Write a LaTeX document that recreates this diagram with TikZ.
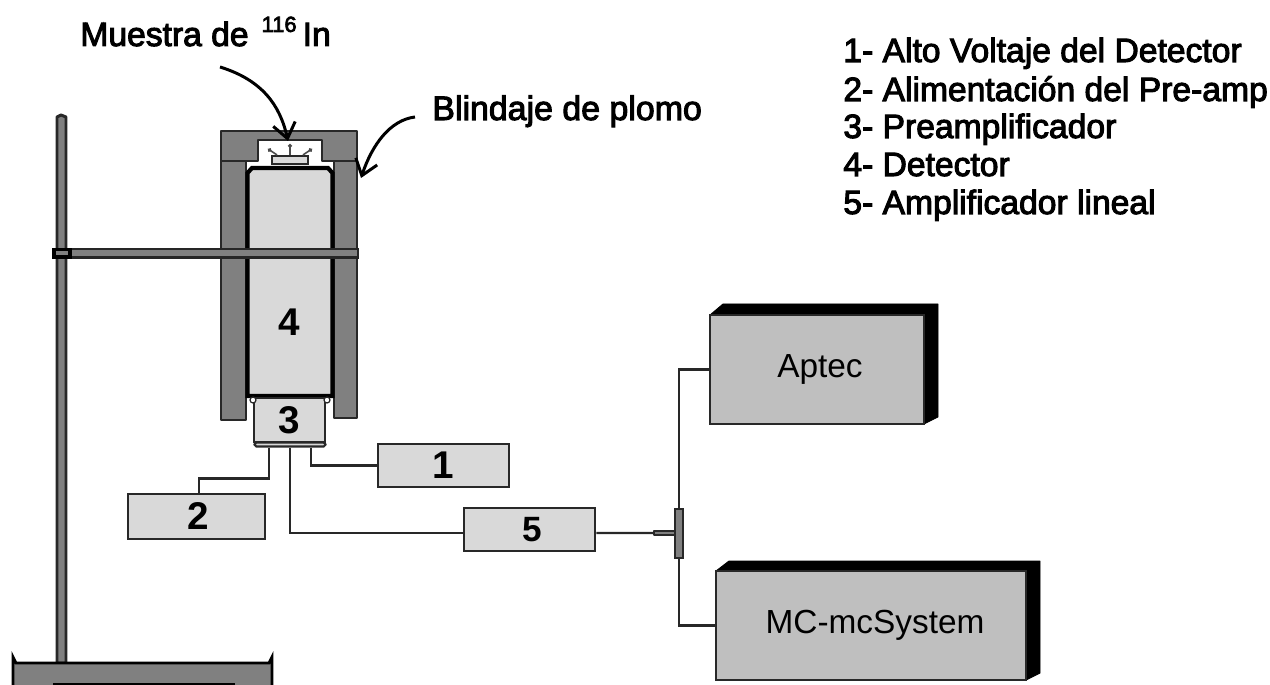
\documentclass[tikz,border=0pt]{standalone}
\usepackage{fontspec}
\setmainfont{Liberation Sans}
\newfontfamily\semibold[FakeBold=3]{Liberation Sans}
\usepackage{xcolor}
\usetikzlibrary{arrows.meta, positioning}
\definecolor{wallgray}{RGB}{128,128,128}
\definecolor{boxgray}{RGB}{217,217,217}
\definecolor{unitgray}{RGB}{191,191,191}
\definecolor{edgegray}{RGB}{40,40,40}

\begin{document}
\begin{tikzpicture}[
    x=0.02cm, y=-0.02cm,
    wall/.style={draw=edgegray, line width=1.2pt, fill=wallgray, line join=round},
    nbox/.style={rectangle, draw=edgegray, line width=1.5pt, fill=boxgray, inner sep=0pt,
                 font=\fontsize{22}{22}\selectfont\bfseries},
    ubox/.style={rectangle, draw=edgegray, line width=1.3pt, fill=unitgray, inner sep=0pt,
                 font=\fontsize{19}{19}\selectfont},
    shade3d/.style={fill=black, draw=black, line width=0.5pt, line join=round},
    wire/.style={draw=edgegray, line width=1.4pt},
    pointer/.style={-{Straight Barb[length=0.3cm, width=0.45cm, line width=1.7pt]}, line width=1.7pt, black},
    legend/.style={anchor=base west, inner sep=0pt, font=\fontsize{19.15}{19.15}\selectfont\semibold},
    ray/.style={-{Circle[length=2.2pt]}, draw=black!70, line width=0.9pt}
]
\useasboundingbox (0,0) rectangle (1270,685);

% stand
\draw[wall, line width=1.7pt] (57,663) -- (57,117) -- (61,115) -- (66,117) -- (66,663) -- cycle;
\fill[wallgray, draw=black, line width=1.6pt] (13,685) -- (13,657) -- (16,663) -- (269,663) -- (272,657) -- (272,685);
\draw[black, line width=1.6pt] (53,684) -- (235,684);

% shield
\draw[wall] (221,161) -- (221,131) -- (357,131) -- (357,161) -- (322,161) -- (322,140)
    -- (258,140) -- (258,161) -- cycle;
\draw[wall] (221,161) rectangle (246,420);
\draw[wall] (334,161) rectangle (357,418);

% detector
\draw[fill=boxgray, draw=black, line width=2.4pt]
    (247.5,396) -- (247.5,173) -- (252,168) -- (328,168) -- (332.5,173) -- (332.5,396) -- cycle;
\draw[black, line width=2.6pt] (246,396) -- (334,396);
\node[font=\fontsize{22}{22}\selectfont\bfseries, inner sep=0pt] (det) at (289,322) {4};

% sample
\node[rectangle, draw=edgegray, line width=1.2pt, fill=boxgray, inner sep=0pt,
      minimum width=0.72cm, minimum height=0.16cm] (sample) at (290,160) {};
\draw[ray] (sample.north) -- ++(0,-11);
\draw[ray] ([xshift=-0.26cm]sample.north) -- ++(-9,-6);
\draw[ray] ([xshift=0.26cm]sample.north) -- ++(9,-6);

% rod and clamp
\fill[wallgray, draw=black!85, line width=1.5pt] (66,249) rectangle (358,257.5);
\draw[black, line width=1.8pt, fill=wallgray] (54,249.5) rectangle (70,257);

% preamp
\node[nbox, minimum width=1.42cm, minimum height=0.88cm] (pre) at (289.5,420) {3};
\node[rectangle, rounded corners=1pt, draw=edgegray, line width=1.2pt, fill=boxgray,
      minimum width=1.42cm, minimum height=0.08cm, inner sep=0pt] (base) at (290,444.5) {};
\draw[fill=white, draw=edgegray, line width=0.7pt] (253,400) circle (3);
\draw[fill=white, draw=edgegray, line width=0.7pt] (327,400) circle (3);

% boxes
\node[nbox, minimum width=2.62cm, minimum height=0.86cm] (one) at (443.5,465.5) {1};
\node[nbox, minimum width=2.74cm, minimum height=0.90cm] (two) at (196.5,516.5) {\hspace*{0.06cm}2};
\node[nbox, minimum width=2.62cm, minimum height=0.86cm] (five) at (529.5,529.5) {\hspace*{0.12cm}\fontsize{20}{20}\selectfont 5};

% instruments
\draw[shade3d] (710,315) -- (723,304) -- (938,304) -- (938,417) -- (924,424) -- cycle;
\node[ubox, minimum width=4.28cm, minimum height=2.18cm] (aptec) at (817,369.5) {\hspace*{0.12cm}Aptec};
\draw[shade3d] (716,571) -- (729,561) -- (1040,561) -- (1040,673) -- (1026,680) -- cycle;
\node[ubox, minimum width=6.20cm, minimum height=2.18cm] (mcs) at (871,625.5) {\hspace*{0.16cm}MC-mcSystem};

% tee
\node[rectangle, draw=edgegray, line width=1.2pt, fill=wallgray, inner sep=0pt,
      minimum width=0.16cm, minimum height=0.98cm] (tee) at (679,533.5) {};
\coordinate (stem) at (654,533);

% wires
\draw[wire] ([xshift=-0.42cm]base.south) -- ++(0,31) -| ([xshift=0.05cm]two.north);
\draw[wire] ([xshift=0.42cm]base.south) |- (one.west);
\draw[wire] (base.south) |- ([yshift=-0.07cm]five.west);
\draw[wire] ([yshift=-0.07cm]five.east) -- (stem);
\draw[wall] (654,531) -- (675,531) -- (675,535) -- (654,535) -- cycle;
\draw[wire] (tee.north) |- (aptec.west);
\draw[wire] (tee.south) |- (mcs.west);

% labels
\node[anchor=base west, inner sep=0pt, font=\fontsize{19.15}{19.15}\selectfont\semibold] (muestra) at (80,46)
    {Muestra de\hspace{0.26cm}\raisebox{8pt}{\fontsize{12.5}{12.5}\selectfont 116}\hspace{0.12cm}In};
\node[anchor=base west, inner sep=0pt, font=\fontsize{19.3}{19.3}\selectfont\semibold] (blindaje) at (432,120)
    {Blindaje de plomo};
\coordinate (mtail) at (220,67);
\coordinate (btail) at (415,117);
\draw[pointer] (mtail) .. controls (262,80) and (280,105) .. (288,141);
\draw[pointer] (btail) .. controls (390,120) and (372,145) .. (361,178);

\node[legend] (leg1) at (843,62) {1- Alto Voltaje del Detector};
\node[legend] (leg2) at (843,101) {2- Alimentación del Pre-amp};
\node[legend] (leg3) at (843,138) {3- Preamplificador};
\node[legend] (leg4) at (843,176) {4- Detector};
\node[legend] (leg5) at (843,214) {5- Amplificador lineal};
\end{tikzpicture}
\end{document}
